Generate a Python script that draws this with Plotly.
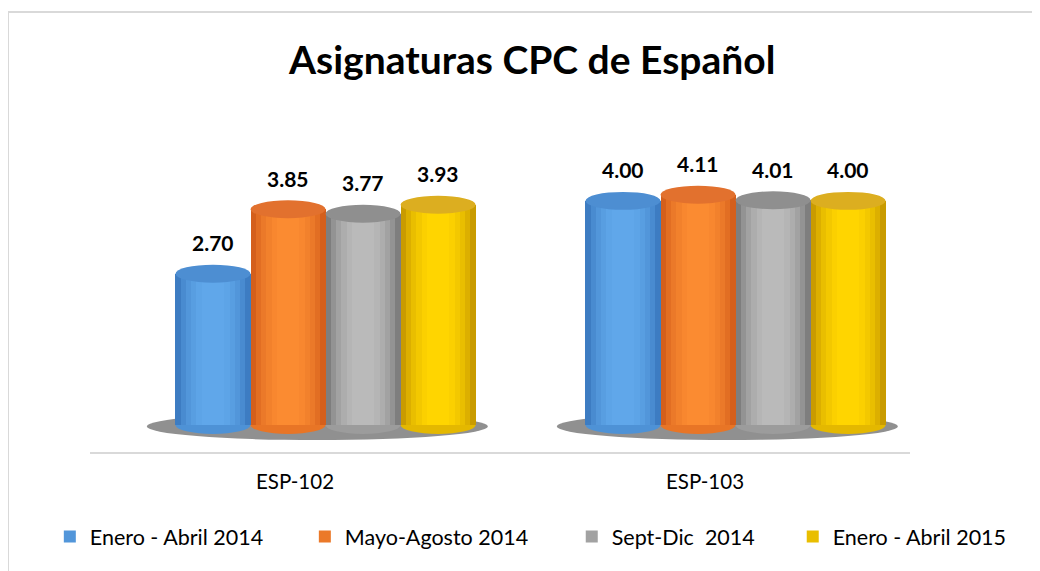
import plotly.graph_objects as go

categories = ["ESP-102", "ESP-103"]
series_names = ["Enero - Abril 2014", "Mayo-Agosto 2014", "Sept-Dic  2014", "Enero - Abril 2015"]
enero_abril_2014 = [2.70, 4.00]
mayo_agosto_2014 = [3.85, 4.11]
sept_dic_2014 = [3.77, 4.01]
enero_abril_2015 = [3.93, 4.00]
series_values = [enero_abril_2014, mayo_agosto_2014, sept_dic_2014, enero_abril_2015]

# per series: edge colour, centre colour, top-cap colour
edge_colors = ["#3d7cc2", "#d45f1c", "#7e7e7e", "#c99b00"]
center_colors = ["#60a7ea", "#fb8b31", "#bababa", "#ffd500"]
top_colors = ["#4d8ed2", "#e2712e", "#8f8f8f", "#dcae20"]

FONT = "Lato"
bar_w = 0.183
offsets = [-0.2, -0.017, 0.166, 0.349]
layer_w = [1.0, 0.86, 0.72, 0.58, 0.44, 0.3]
layer_t = [0.0, 0.35, 0.6, 0.78, 0.92, 1.0]
ell_h = 0.16
legend_ids = ["legend", "legend2", "legend3", "legend4"]
legend_x = [-0.049, 0.262, 0.5875, 0.857]


def mix(c1, c2, t):
    a = [int(c1[i:i + 2], 16) for i in (1, 3, 5)]
    b = [int(c2[i:i + 2], 16) for i in (1, 3, 5)]
    return "#" + "".join(f"{round(x + (y - x) * t):02x}" for x, y in zip(a, b))


fig = go.Figure()
shapes = []
annotations = []

# floor shadows per category
for ci in range(len(categories)):
    shapes.append(dict(type="circle", xref="x", yref="y", layer="below",
                       x0=ci + offsets[0] - bar_w / 2 - 0.07, x1=ci + offsets[-1] + bar_w / 2 + 0.03,
                       y0=-0.27, y1=0.22, fillcolor="rgba(70,70,70,0.6)", line=dict(width=0)))

for si, (name, vals) in enumerate(zip(series_names, series_values)):
    xs = [ci + offsets[si] for ci in range(len(categories))]
    for li, (wf, t) in enumerate(zip(layer_w, layer_t)):
        fig.add_trace(go.Bar(
            x=xs, y=vals, width=bar_w * wf,
            marker=dict(color=mix(edge_colors[si], center_colors[si], t), line=dict(width=0)),
            name=name, showlegend=(li == 2), legend=legend_ids[si],
            hoverinfo="skip" if li != 2 else None,
        ))
    for x, v in zip(xs, vals):
        shapes.append(dict(type="circle", xref="x", yref="y", layer="below",
                           x0=x - bar_w / 2, x1=x + bar_w / 2, y0=-ell_h, y1=ell_h,
                           fillcolor=mix(edge_colors[si], center_colors[si], 0.5), line=dict(width=0)))
        shapes.append(dict(type="circle", xref="x", yref="y", layer="above",
                           x0=x - bar_w / 2, x1=x + bar_w / 2, y0=v - ell_h, y1=v + ell_h,
                           fillcolor=top_colors[si], line=dict(width=0)))
        annotations.append(dict(x=x, y=v, xref="x", yref="y", text=f"{v:.2f}",
                                showarrow=False, yshift=31, yanchor="middle",
                                font=dict(family=FONT, size=21, color="#000000", weight="bold")))

# chart-area border
shapes.append(dict(type="rect", xref="paper", yref="paper", x0=-0.1, x1=1.6, y0=-0.6, y1=1.25,
                   line=dict(color="#d9d9d9", width=2), fillcolor="rgba(0,0,0,0)", layer="below"))

legend_layout = {}
for lid, lx in zip(legend_ids, legend_x):
    legend_layout[lid] = dict(orientation="h", x=lx, xanchor="left", y=-0.24, yanchor="middle",
                              font=dict(family=FONT, size=21.5, color="#000000"),
                              bgcolor="rgba(0,0,0,0)")

fig.update_layout(
    width=1040, height=571,
    margin=dict(l=82, r=138, t=92, b=127, autoexpand=False),
    paper_bgcolor="white", plot_bgcolor="white",
    barmode="overlay", bargap=0,
    title=dict(text="Asignaturas CPC de Español", x=0.504, xanchor="center", y=0.909, yanchor="middle",
               font=dict(family=FONT, size=39, color="#000000", weight="bold")),
    xaxis=dict(range=[-0.5, 1.5], tickvals=list(range(len(categories))), ticktext=categories,
               showline=True, linecolor="#d9d9d9", linewidth=2, showgrid=False, zeroline=False,
               ticks="", ticklabelstandoff=10, tickfont=dict(family=FONT, size=20.5, color="#000000")),
    yaxis=dict(range=[-0.482, 5.80], visible=False, showgrid=False, zeroline=False),
    shapes=shapes, annotations=annotations, showlegend=True,
    **legend_layout,
)

fig.write_html("out.html")
